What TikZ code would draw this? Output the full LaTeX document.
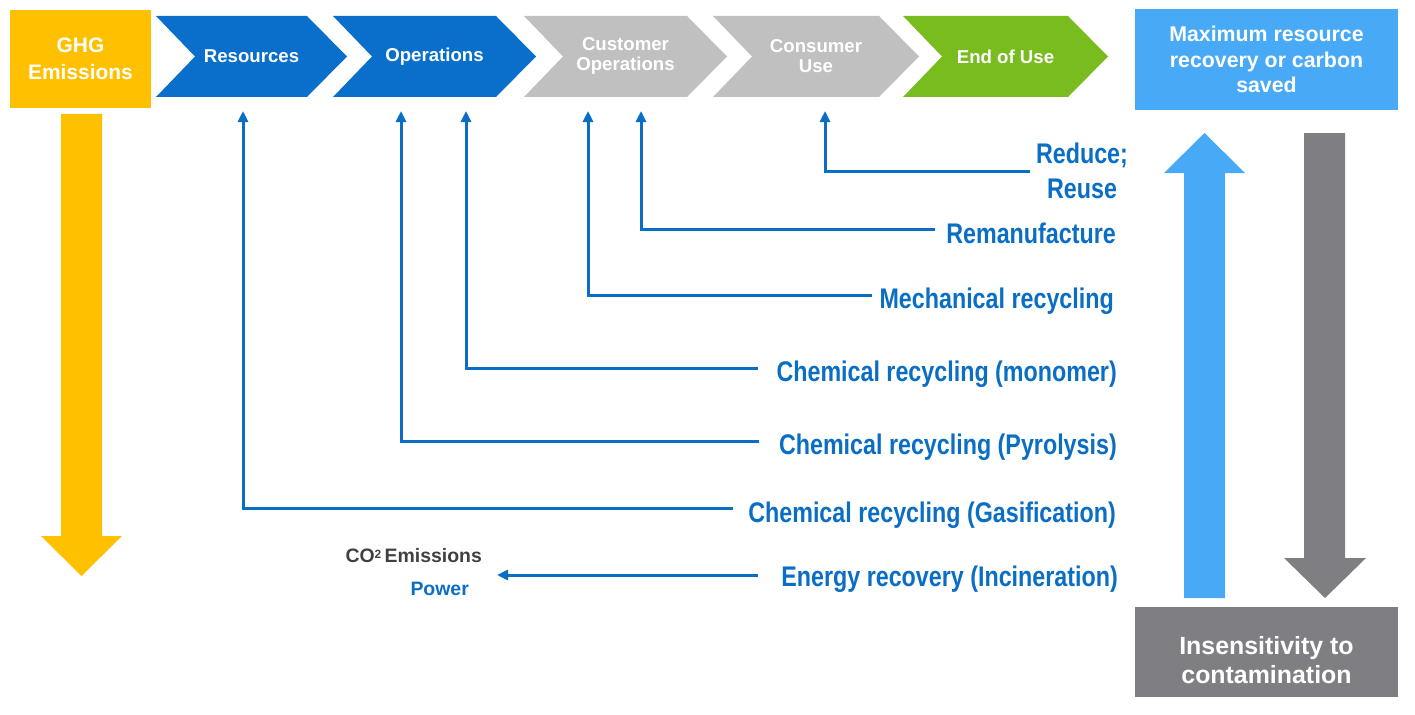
\documentclass[tikz,border=0pt]{standalone}
\usepackage{fontspec}
\setmainfont{Liberation Sans}
\newfontfamily\narrowfont{Liberation Sans}[FakeStretch=0.82]
\usetikzlibrary{arrows.meta,calc}
\definecolor{ghgyellow}{HTML}{FFC000}
\definecolor{chevblue}{HTML}{0A6FCA}
\definecolor{labblue}{HTML}{0A6EC4}
\definecolor{chevgray}{HTML}{C0C0C0}
\definecolor{chevgreen}{HTML}{78BC1E}
\definecolor{lightblue}{HTML}{48AAF7}
\definecolor{darkgray}{HTML}{7F7F83}
\definecolor{cotext}{HTML}{404040}
\newcommand{\drawchev}[3]{%
  \fill[#1] (#2,16) -- ({#3-40},16) -- (#3,56.5) -- ({#3-40},97) -- (#2,97) -- ({#2+39},56.5) -- cycle;}
\tikzset{
  hdr/.style={text=white, font=\fontsize{18.7}{20}\selectfont\bfseries, align=center, inner sep=0pt},
  boxtext/.style={text=white, font=\fontsize{21.4}{25.5}\selectfont\bfseries, align=center, inner sep=0pt},
  lab/.style={font=\narrowfont\fontsize{28.5}{35}\selectfont\bfseries, text=labblue, anchor=east, inner sep=0pt, text height=20.4bp, text depth=0pt},
  labm/.style={font=\narrowfont\fontsize{28.5}{35}\selectfont\bfseries, text=labblue, inner sep=0pt, align=center},
  small/.style={font=\fontsize{19.5}{22}\selectfont\bfseries, anchor=east, inner sep=0pt, text height=14bp, text depth=0pt},
  conn/.style={draw=labblue, line width=3bp, -{Triangle[width=10bp,length=11bp]}}
}
\begin{document}
\begin{tikzpicture}[x=1bp,y=-1bp]
\useasboundingbox (0,0) rectangle (1415,714);
% GHG box and arrow
\node[fill=ghgyellow, minimum width=141bp, minimum height=98bp, boxtext, font=\fontsize{21}{27}\selectfont\bfseries] (ghg) at (80.5,59) {GHG\\Emissions};
\fill[ghgyellow] (61,114) -- (102,114) -- (102,536) -- (122,536) -- (81.5,576) -- (41,536) -- (61,536) -- cycle;
% chevrons
\drawchev{chevblue}{156}{347}
\drawchev{chevblue}{333}{536}
\drawchev{chevgray}{524}{727}
\drawchev{chevgray}{713}{919}
\drawchev{chevgreen}{903}{1108}
\node[hdr] (res) at (251.5,56.5) {Resources};
\node[hdr] (ops) at (434.5,56.5) {Operations};
\node[hdr] (cops) at (625.5,56) {Customer\\Operations};
\node[hdr] (cuse) at (816,56) {Consumer\\Use};
\node[hdr] (eou) at (1005.5,56.5) {End of Use};
% right boxes
\node[fill=lightblue, minimum width=263bp, minimum height=101bp, boxtext] (max) at (1266.5,59.5) {Maximum resource\\recovery or carbon\\saved};
\node[fill=darkgray, minimum width=263bp, minimum height=90bp, inner sep=0pt] (ins) at (1266.5,652) {};
\node[boxtext, font=\fontsize{25}{29}\selectfont\bfseries] (instext) at ([yshift=-8bp]ins.center) {Insensitivity to\\contamination};
% big arrows
\fill[lightblue] (1184,598) -- (1184,173) -- (1164,173) -- (1204.5,133) -- (1245,173) -- (1225,173) -- (1225,598) -- cycle;
\fill[darkgray] (1304,133) -- (1345,133) -- (1345,558) -- (1366,558) -- (1325,598) -- (1284,558) -- (1304,558) -- cycle;
% labels
\node[labm, anchor=north] (reduce) at (1082,143) {Reduce;\\Reuse};
\node[lab] (reman) at (1116,233) {Remanufacture};
\node[lab] (mech) at (1114,298) {Mechanical recycling};
\node[lab] (mono) at (1117,371) {Chemical recycling (monomer)};
\node[lab] (pyr) at (1117,444) {Chemical recycling (Pyrolysis)};
\node[lab] (gas) at (1116,512) {Chemical recycling (Gasification)};
\node[lab] (energy) at (1118,576) {Energy recovery (Incineration)};
\node[small, text=cotext] (co2) at (482,555) {CO\raisebox{4bp}{\fontsize{12}{12}\selectfont 2}\,Emissions};
\node[small, text=labblue] (power) at (469,588) {Power};
% arrow targets
\coordinate (t1) at (825,111);
\coordinate (t2) at (641,111);
\coordinate (t3) at (588,111);
\coordinate (t4) at (466,111);
\coordinate (t5) at (401,111);
\coordinate (t6) at (243,111);
\coordinate (pw) at (497,575);
% connectors
\draw[conn] ([xshift=-6bp]reduce.west) -| (t1);
\draw[conn] ([xshift=-11bp,yshift=4bp]reman.west) -| (t2);
\draw[conn] ([xshift=-7bp,yshift=3bp]mech.west) -| (t3);
\draw[conn] ([xshift=-18bp,yshift=3bp]mono.west) -| (t4);
\draw[conn] ([xshift=-20bp,yshift=3bp]pyr.west) -| (t5);
\draw[conn] ([xshift=-15bp,yshift=4bp]gas.west) -| (t6);
\draw[conn] ([xshift=-23bp,yshift=1bp]energy.west) -- (pw);
\end{tikzpicture}
\end{document}
